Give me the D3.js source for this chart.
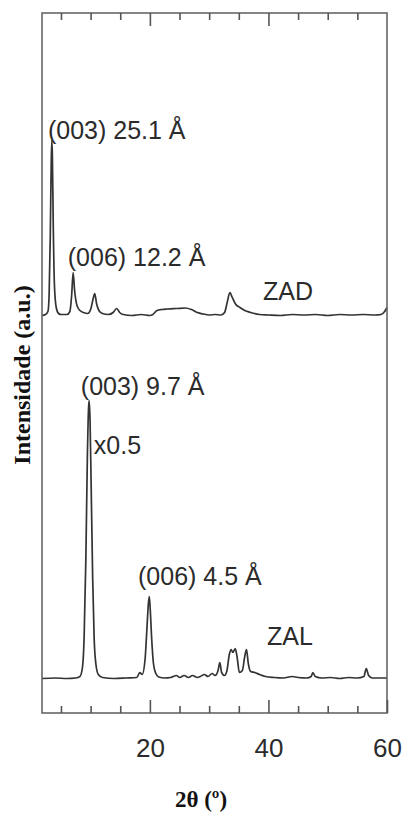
<!DOCTYPE html>
<html>
<head>
<meta charset="utf-8">
<script src="https://cdn.jsdelivr.net/npm/d3@7"></script>
<style>
    body { margin: 0; background: #fff; }
    #chart { width: 402px; height: 814px; }
    .peak-label { font-family: "Liberation Sans", Arial, sans-serif; font-size: 25px; fill: #2b2b2b; }
    .axis-title { font-family: "Liberation Serif", "Times New Roman", serif; font-weight: bold; fill: #111; }
</style>
</head>
<body>
<div id="chart"></div>
<script>
// ZAD pattern: 2theta (deg) and intensity above its own baseline (a.u.)
const zadTheta = [1.8, 2.4, 2.8, 3.0, 3.2, 3.35, 3.45, 3.55, 3.7, 3.9, 4.2, 4.6, 5.0, 6.0, 6.5, 6.8, 7.05, 7.3, 7.7, 8.2, 8.8, 9.5,
    10.0, 10.4, 10.7, 11.0, 11.4, 12.0, 13.0, 13.8, 14.4, 14.9, 15.5, 17.0, 18.5, 20.0, 20.5, 21.2, 22.0, 23.0, 24.5, 26.0, 27.0,
    28.0, 29.0, 30.0, 31.0, 32.0, 32.6, 33.0, 33.5, 33.9, 34.5, 35.2, 36.0, 37.0, 38.5, 40, 42, 44, 46, 48, 50, 52, 54, 56, 58, 59, 59.6, 60];
const zadInt = [0, 1, 4, 20, 80, 150, 175, 160, 90, 30, 8, 2, 1, 1, 4, 20, 43, 25, 10, 5, 3, 2,
    6, 16, 22, 12, 5, 2, 1, 3, 7, 3, 1, 0, 1, 0, 1, 5, 6, 6.5, 7, 7.5, 6,
    3, 1.5, 0.5, 1, 0.5, 3, 12, 23, 18, 11, 8, 5, 3, 1, 0.5, 0, 1, 0.5, 1, 0, 1, 0.5, 1, 0.5, 1, 4, 8];

// ZAL pattern (shown x0.5)
const zalTheta = [1.8, 4, 6, 7.5, 8.2, 8.6, 8.9, 9.2, 9.45, 9.65, 9.75, 9.9, 10.1, 10.35, 10.6, 10.9, 11.3, 12, 14, 16, 17.8, 18.3,
    18.7, 19.2, 19.5, 19.75, 19.9, 20.05, 20.3, 20.6, 21.0, 21.5, 22.5, 23.5, 24.5, 25.0, 25.8, 26.5, 27.2, 28, 28.5, 29.2, 29.8,
    30.5, 31.0, 31.5, 31.8, 32.1, 32.6, 33.0, 33.4, 33.7, 34.0, 34.4, 34.7, 35.1, 35.6, 36.0, 36.3, 36.6, 37.0, 37.7, 38.5, 39.5,
    41, 42.5, 44, 45, 46.5, 47.2, 47.5, 47.9, 49, 50.5, 52, 53.5, 55, 56.1, 56.5, 56.9, 57.5, 58.5, 60];
const zalInt = [0, 0.5, 0, 0.5, 2, 10, 40, 120, 220, 270, 278, 260, 190, 100, 40, 14, 4, 1, 0, 0.5, 1, 6,
    4, 20, 50, 75, 82, 70, 40, 15, 5, 1.5, 0.5, 1, 3, 1, 3, 1, 3, 1, 2, 4, 2,
    5, 3, 8, 16, 6, 3, 8, 24, 29, 26, 30, 22, 6, 8, 22, 29, 15, 7, 6, 4, 2,
    1, 0.5, 2, 1, 0.5, 2, 6, 2, 0.5, 1, 0, 1, 0.5, 2, 10, 3, 0.5, 0.5, 0.5];

// vertical stacking offsets (a.u.)
const zadOffset = 397.5;
const zalOffset = 34.5;

// axis ticks
const minorTicks = [5, 10, 15, 25, 30, 35, 45, 50, 55];
const majorTicks = [20, 40, 60];

// annotations: text, 2theta, a.u.
const labelText = ["(003) 25.1 Å", "(006) 12.2 Å", "ZAD", "(003) 9.7 Å", "x0.5", "(006) 4.5 Å", "ZAL"];
const labelTheta = [2.8, 6.15, 39.1, 8.35, 10.55, 18.0, 39.75];
const labelValue = [574, 447, 413, 318, 259, 128, 68];

const W = 402, H = 814;
const box = {left: 42, right: 387, top: 13, bottom: 713};

const svg = d3.select("#chart").append("svg")
    .attr("width", W)
    .attr("height", H);

const x = d3.scaleLinear().domain([1.8, 60]).range([box.left, box.right]);
const y = d3.scaleLinear().domain([0, 700]).range([box.bottom, box.top]);

const line = d3.line()
    .x(d => x(d[0]))
    .y(d => y(d[1]))
    .curve(d3.curveMonotoneX);

function drawPattern(theta, vals, offset) {
    const pts = theta.map((t, i) => [t, vals[i] + offset]);
    svg.append("path")
        .datum(pts)
        .attr("fill", "none")
        .attr("stroke", "#333")
        .attr("stroke-width", 1.7)
        .attr("stroke-linejoin", "round")
        .attr("d", line);
}

drawPattern(zadTheta, zadInt, zadOffset);
drawPattern(zalTheta, zalInt, zalOffset);

// frame
svg.append("rect")
    .attr("x", box.left)
    .attr("y", box.top)
    .attr("width", box.right - box.left)
    .attr("height", box.bottom - box.top)
    .attr("fill", "none")
    .attr("stroke", "#666")
    .attr("stroke-width", 1.6);

// inside ticks, bottom and top
function tickAxis(axisFn, ticks, size, yPos, withLabels) {
    const ax = axisFn(x).tickValues(ticks).tickSizeInner(-size).tickSizeOuter(0)
        .tickPadding(26)
        .tickFormat(withLabels ? d3.format("d") : "");
    const g = svg.append("g")
        .attr("transform", `translate(0, ${yPos})`)
        .call(ax);
    g.select(".domain").remove();
    g.selectAll(".tick line").attr("stroke", "#555").attr("stroke-width", 1.6);
    g.selectAll(".tick text")
        .attr("font-family", "Liberation Sans, Arial, sans-serif")
        .attr("font-size", 26)
        .attr("fill", "#2b2b2b");
    return g;
}

tickAxis(d3.axisBottom, minorTicks, 7, box.bottom, false);
tickAxis(d3.axisBottom, majorTicks, 13, box.bottom, true);
tickAxis(d3.axisTop, minorTicks, 7, box.top, false);
tickAxis(d3.axisTop, majorTicks.filter(d => d < 60), 13, box.top, false);

// peak annotations
svg.selectAll(".peak-label")
    .data(labelText)
    .enter()
    .append("text")
    .attr("class", "peak-label")
    .attr("x", (d, i) => x(labelTheta[i]))
    .attr("y", (d, i) => y(labelValue[i]))
    .text(d => d);

// axis titles
svg.append("text")
    .attr("class", "axis-title")
    .attr("font-size", 23)
    .attr("text-anchor", "middle")
    .attr("x", 201)
    .attr("y", 807)
    .text("2θ (º)");

svg.append("text")
    .attr("class", "axis-title")
    .attr("font-size", 24)
    .attr("text-anchor", "middle")
    .attr("transform", "translate(30, 375) rotate(-90)")
    .text("Intensidade (a.u.)");
</script>
</body>
</html>
